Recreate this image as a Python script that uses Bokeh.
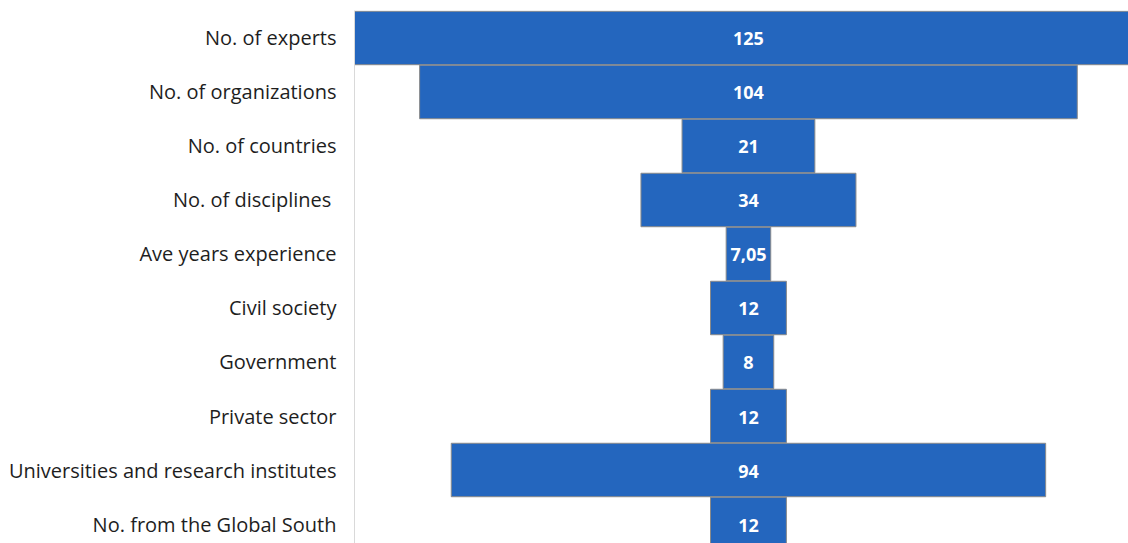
from bokeh.plotting import figure
from bokeh.models import Range1d, FixedTicker, ColumnDataSource
from bokeh.core.properties import value
from bokeh.embed import file_html
from bokeh.resources import INLINE

categories = ["No. of experts", "No. of organizations", "No. of countries", "No. of  disciplines",
              "Ave years experience", "Civil society", "Government", "Private sector",
              "Universities and research institutes", "No. from the Global South"]
values = [125, 104, 21, 34, 7.05, 12, 8, 12, 94, 12]
value_labels = ["125", "104", "21", "34", "7,05", "12", "8", "12", "94", "12"]

rows = list(range(len(categories)))
src = ColumnDataSource(dict(
    y=rows,
    left=[-v / 2 for v in values],
    right=[v / 2 for v in values],
    x=[0] * len(values),
    lab=value_labels,
))

p = figure(width=1128, height=543, output_backend="svg", toolbar_location=None,
           x_range=Range1d(-62.3, 60.1), y_range=Range1d(9.361, -0.509),
           min_border_left=354, min_border_right=0, min_border_top=10, min_border_bottom=0)
p.outline_line_color = None
p.xgrid.visible = False
p.ygrid.visible = False
p.xaxis.visible = False
p.background_fill_color = "white"

p.hbar(y="y", left="left", right="right", height=0.99, source=src,
       fill_color="#2466BE", line_color="#8a8a8a", line_width=1)
p.text(x="x", y="y", text="lab", source=src, text_align="center", text_baseline="middle",
       text_color="white", text_font=value("Open Sans"), text_font_style="bold",
       text_font_size="18px", y_offset=1)

yax = p.yaxis[0]
yax.ticker = FixedTicker(ticks=rows)
yax.major_label_overrides = {i: c for i, c in zip(rows, categories)}
yax.major_tick_line_color = None
yax.minor_tick_line_color = None
yax.axis_line_color = "#d9d9d9"
yax.major_label_text_font = "Open Sans"
yax.major_label_text_font_size = "20px"
yax.major_label_text_color = "#1e1e1e"
yax.major_label_standoff = 12

open("out.html", "w").write(file_html(p, INLINE))
